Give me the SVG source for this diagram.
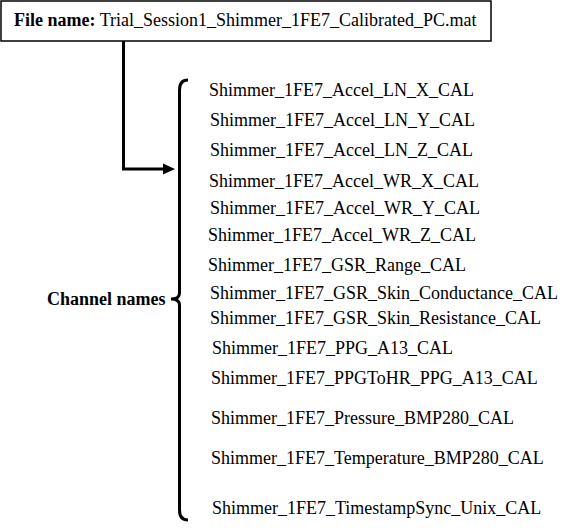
<svg xmlns="http://www.w3.org/2000/svg" width="579" height="531" viewBox="0 0 579 531" font-family="Liberation Serif, Times New Roman, DejaVu Serif, serif">
<style>
text{font-family:'Liberation Serif','Times New Roman','DejaVu Serif',serif;font-size:18px;fill:#000}
.b{font-weight:bold}
.ln{fill:none;stroke:#000;stroke-width:3}
</style>
<defs>
<marker id="ah" markerWidth="4" markerHeight="3.8" refX="0" refY="1.85" orient="auto" markerUnits="strokeWidth" overflow="visible"><path d="M0,0 L4,1.85 L0,3.7 Z" fill="#000"/></marker>
</defs>
<rect width="579" height="531" fill="#fff"/>
<g id="file">
<rect x="1" y="1" width="490" height="40" fill="#fff" stroke="#000" stroke-width="1.5"/>
<text x="14" y="26"><tspan class="b">File name:</tspan> Trial_Session1_Shimmer_1FE7_Calibrated_PC.mat</text>
</g>
<g id="connectors">
<path class="ln" d="M123.5,41 V169 H163" stroke-linejoin="miter" marker-end="url(#ah)"/>
<path class="ln" d="M188,80 Q179.5,80 179.5,90 V293 Q179.5,299 171,299 Q179.5,299 179.5,305 V510 Q179.5,520 188,520"/>
</g>
<g id="label"><text class="b" x="47" y="305">Channel names</text></g>
<g id="channels">
<text x="209" y="96">Shimmer_1FE7_Accel_LN_X_CAL</text>
<text x="210" y="126">Shimmer_1FE7_Accel_LN_Y_CAL</text>
<text x="210" y="156">Shimmer_1FE7_Accel_LN_Z_CAL</text>
<text x="209" y="187">Shimmer_1FE7_Accel_WR_X_CAL</text>
<text x="210" y="214">Shimmer_1FE7_Accel_WR_Y_CAL</text>
<text x="208" y="241">Shimmer_1FE7_Accel_WR_Z_CAL</text>
<text x="208" y="271">Shimmer_1FE7_GSR_Range_CAL</text>
<text x="210" y="299">Shimmer_1FE7_GSR_Skin_Conductance_CAL</text>
<text x="210" y="324">Shimmer_1FE7_GSR_Skin_Resistance_CAL</text>
<text x="212" y="354">Shimmer_1FE7_PPG_A13_CAL</text>
<text x="211" y="384">Shimmer_1FE7_PPGToHR_PPG_A13_CAL</text>
<text x="211" y="424">Shimmer_1FE7_Pressure_BMP280_CAL</text>
<text x="211" y="464">Shimmer_1FE7_Temperature_BMP280_CAL</text>
<text x="212" y="514">Shimmer_1FE7_TimestampSync_Unix_CAL</text>
</g>
</svg>
